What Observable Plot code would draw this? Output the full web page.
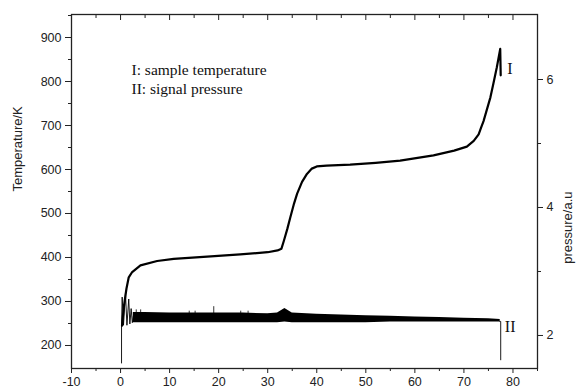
<!DOCTYPE html>
<html><head><meta charset="utf-8">
<script src="https://cdn.jsdelivr.net/npm/d3@7"></script>
<script src="https://cdn.jsdelivr.net/npm/@observablehq/plot@0.6"></script>
<style>
body{margin:0;background:#fff;}
#wrap{position:relative;width:578px;height:392px;background:#fff;}
#wrap svg{position:absolute;left:0;top:0;}
</style></head><body><div id="wrap"></div>
<script>
// ---- tick values ----
const xTicks = [-10, 0, 10, 20, 30, 40, 50, 60, 70, 80];
const xMinor = [-5, 5, 15, 25, 35, 45, 55, 65, 75, 85];
const tTicks = [200, 300, 400, 500, 600, 700, 800, 900];
const tMinor = [250, 350, 450, 550, 650, 750, 850, 950];
const pTicks = [2, 4, 6];
const pMinor = [3, 5];

// ---- curve I: sample temperature (K) vs time ----
const timeT = [0.3, 0.66, 1.2, 1.67, 2.37, 4.06, 7.46, 10.84, 17.65, 24.4, 30, 32, 32.8, 33.3, 34, 34.6, 35.3, 36, 37, 38, 39, 40, 42, 46.8, 52, 57, 63.8, 68, 70.6, 72, 73, 73.5, 74, 75.4, 76, 76.7, 77.4, 77.5];
const tempK = [245, 287, 329, 355, 367, 382, 392, 397, 402, 407, 412, 416, 420, 438, 465, 491, 520, 545, 572, 590, 602, 607, 609, 611, 615, 620, 632, 643, 652, 665, 680, 695, 710, 764, 795, 832, 874, 814];

// ---- curve II: signal pressure (a.u.) ----
const pStartX = [0.2, 0.2, 0.33, 0.6, 1.0, 1.3, 1.67, 1.9, 2.16, 2.4, 2.6];
const pStartV = [1.57, 2.16, 2.60, 2.16, 2.66, 2.16, 2.57, 2.18, 2.42, 2.2, 2.3];
const bandX    = [2.6, 5, 10, 15, 20, 25, 30, 32, 33.5, 35, 40, 45, 50, 55, 60, 65, 70, 75, 77.4];
const bandHigh = [2.36, 2.36, 2.35, 2.35, 2.35, 2.35, 2.34, 2.35, 2.42, 2.35, 2.33, 2.32, 2.31, 2.30, 2.29, 2.28, 2.27, 2.26, 2.25];
const bandLow  = [2.20, 2.20, 2.20, 2.20, 2.20, 2.20, 2.20, 2.20, 2.21, 2.20, 2.20, 2.20, 2.20, 2.21, 2.21, 2.21, 2.21, 2.21, 2.21];
const spikeX    = [3.2, 4.1, 14.0, 15.2, 19.0, 24.5, 26.0];
const spikeBase = [2.3, 2.3, 2.3, 2.3, 2.3, 2.3, 2.3];
const spikeTop  = [2.40, 2.40, 2.38, 2.38, 2.45, 2.38, 2.38];
const pEndX = [77.3, 77.5, 77.5];
const pEndV = [2.22, 2.22, 1.62];

// ---- texts ----
const yLabelLeft = "Temperature/K";
const yLabelRight = "pressure/a.u";
const legendLines = ["I: sample temperature", "II: signal pressure"];
const curveLabels = ["I", "II"];

// ---- build tables ----
const tempRows = timeT.map((t, i) => ({t, v: tempK[i]}));
const startRows = pStartX.map((t, i) => ({t, v: pStartV[i]}));
const bandRows = bandX.map((t, i) => ({t, lo: bandLow[i], hi: bandHigh[i]}));
const spikeRows = spikeX.map((t, i) => ({t, lo: spikeBase[i], hi: spikeTop[i]}));
const endRows = pEndX.map((t, i) => ({t, v: pEndV[i]}));

const W = 578, H = 392;
const margins = {marginLeft: 71, marginRight: 41, marginTop: 14, marginBottom: 24};
const xDomain = [-10, 85], tDomain = [147.7, 952.3], pDomain = [1.484, 7.016];
const sans = "'Liberation Sans', Arial, sans-serif";
const serif = "'Liberation Serif', 'Times New Roman', serif";
const axisColor = "#222";
const blank = () => "";

const p1 = Plot.plot({
  width: W, height: H, ...margins,
  style: {background: "transparent", fontFamily: sans, fontSize: "12.5px", color: axisColor},
  x: {domain: xDomain},
  y: {domain: tDomain},
  marks: [
    Plot.frame({stroke: axisColor, strokeWidth: 1.3}),
    Plot.axisX({anchor: "bottom", ticks: xTicks, tickSize: 5, tickPadding: 4, tickFormat: d => String(d), label: null}),
    Plot.axisX({anchor: "bottom", ticks: xMinor, tickSize: 3, tickFormat: blank, label: null}),
    Plot.axisX({anchor: "top", ticks: xTicks, tickSize: -5, tickFormat: blank, label: null}),
    Plot.axisX({anchor: "top", ticks: xMinor, tickSize: -3, tickFormat: blank, label: null}),
    Plot.axisY({anchor: "left", ticks: tTicks, tickSize: 6, tickPadding: 4, tickFormat: d => String(d), label: null}),
    Plot.axisY({anchor: "left", ticks: tMinor, tickSize: 3, tickFormat: blank, label: null}),
    Plot.line(tempRows, {x: "t", y: "v", stroke: "#000", strokeWidth: 2.2}),
    Plot.text([yLabelLeft], {frameAnchor: "left", dx: -54, rotate: -90, fontSize: 13, fill: axisColor}),
    Plot.text([legendLines[0]], {frameAnchor: "top-left", dx: 60, dy: 49, textAnchor: "start", fontFamily: serif, fontSize: 15.5, fill: "#111"}),
    Plot.text([legendLines[1]], {frameAnchor: "top-left", dx: 60, dy: 68, textAnchor: "start", fontFamily: serif, fontSize: 15.5, fill: "#111"}),
    Plot.text([curveLabels[0]], {frameAnchor: "top-right", dx: -25, dy: 48, fontFamily: serif, fontSize: 16, fill: "#111"}),
    Plot.text([curveLabels[1]], {frameAnchor: "top-right", dx: -22, dy: 306, fontFamily: serif, fontSize: 16, fill: "#111"})
  ]
});

const p2 = Plot.plot({
  width: W, height: H, ...margins,
  style: {background: "transparent", fontFamily: sans, fontSize: "12.5px", color: axisColor},
  x: {domain: xDomain, axis: null},
  y: {domain: pDomain},
  marks: [
    Plot.axisY({anchor: "right", ticks: pTicks, tickSize: 5, tickPadding: 4, tickFormat: d => String(d), label: null}),
    Plot.axisY({anchor: "right", ticks: pMinor, tickSize: 3, tickFormat: blank, label: null}),
    Plot.areaY(bandRows, {x: "t", y1: "lo", y2: "hi", fill: "#000"}),
    Plot.line(startRows, {x: "t", y: "v", stroke: "#000", strokeWidth: 0.9}),
    Plot.ruleX(spikeRows, {x: "t", y1: "lo", y2: "hi", stroke: "#000", strokeWidth: 0.8}),
    Plot.line(endRows, {x: "t", y: "v", stroke: "#000", strokeWidth: 0.9}),
    Plot.text([yLabelRight], {frameAnchor: "right", dx: 30, rotate: -90, fontSize: 13, fill: axisColor})
  ]
});

const wrap = document.getElementById("wrap");
wrap.appendChild(p1);
wrap.appendChild(p2);
</script></body></html>
